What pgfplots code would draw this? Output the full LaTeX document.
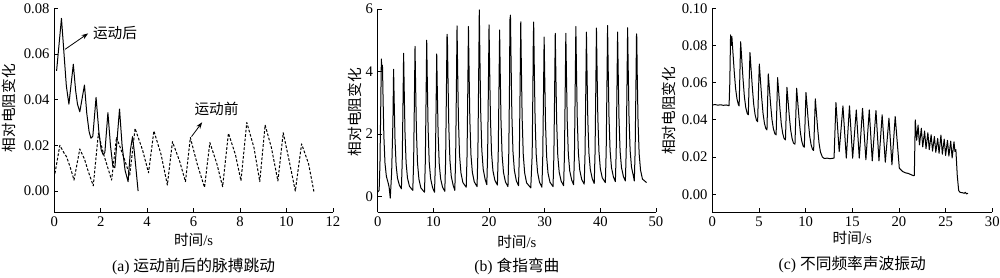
\documentclass[border=0pt]{standalone}
\usepackage{pgfplots}
\pgfplotsset{compat=1.18}
\usetikzlibrary{arrows.meta}
\usepackage{fontspec}
\setmainfont{Liberation Serif}
\newfontfamily\cjk{Noto Sans CJK SC}

\pgfplotsset{
  myaxis/.style={
    scale only axis,
    clip=false,
    axis lines*=left,
    tick align=inside,
    major tick length=3pt,
    tick style={black, line width=0.6pt},
    axis line style={black, line width=0.7pt},
    ticklabel style={font=\fontsize{11}{13}\selectfont},
    /pgf/number format/assume math mode=true,
  },
  trace/.style={black, no markers, line width=0.75pt, line join=round},
}

\begin{document}
\begin{tikzpicture}
\useasboundingbox (0,0) rectangle (750pt,208.5pt);

% ---------------- (a) ----------------
\begin{axis}[myaxis,
  at={(40.7pt,49.3pt)}, anchor=south west,
  width=209pt, height=153pt,
  xmin=0, xmax=12, ymin=-0.0093, ymax=0.08,
  xtick={0,2,4,6,8,10,12},
  ytick={0,0.02,0.04,0.06,0.08},
  yticklabel style={/pgf/number format/fixed, /pgf/number format/fixed zerofill, /pgf/number format/precision=2},
  scaled y ticks=false,
]
\addplot[trace] coordinates {
(0.10,0.0526)(0.31,0.0756)(0.42,0.060)(0.52,0.046)(0.63,0.038)
(0.82,0.0555)(0.92,0.044)(1.00,0.038)(1.10,0.0347)
(1.30,0.0464)(1.40,0.034)(1.50,0.026)(1.58,0.0231)(1.66,0.0240)
(1.80,0.041)(1.92,0.026)(2.02,0.018)(2.11,0.0158)(2.18,0.0170)
(2.31,0.0343)(2.42,0.020)(2.52,0.011)(2.61,0.0102)
(2.81,0.0359)(2.92,0.020)(3.05,0.009)(3.18,0.0041)
(3.28,0.018)(3.37,0.0238)(3.45,0.017)(3.61,0.0000)
};
\addplot[trace, dash pattern=on 2pt off 1.3pt] coordinates {
(0.03,0.0077)(0.24,0.0200)(0.40,0.0170)(0.53,0.0150)(0.70,0.0100)(0.85,0.0048)
(1.10,0.0184)(1.30,0.0140)(1.45,0.0090)(1.68,0.0023)
(1.90,0.0253)(2.10,0.0170)(2.25,0.0120)(2.47,0.0048)
(2.68,0.0235)(2.95,0.0160)(3.25,0.0070)
(3.48,0.0274)(3.80,0.0180)(4.06,0.0080)
(4.29,0.0263)(4.60,0.0160)(4.87,0.0026)
(5.09,0.0216)(5.40,0.0130)(5.65,0.0041)
(5.86,0.0234)(6.15,0.0120)(6.47,0.0016)
(6.70,0.0212)(7.00,0.0120)(7.25,0.0019)
(7.50,0.0253)(7.80,0.0160)(8.04,0.0045)
(8.29,0.0300)(8.60,0.0190)(8.85,0.0041)
(9.08,0.0289)(9.35,0.0190)(9.63,0.0044)
(9.86,0.0255)(10.10,0.0140)(10.38,0.0000)
(10.65,0.0206)(10.95,0.0120)(11.18,-0.0002)
};
\draw[-{Stealth[length=5pt,width=3.5pt]}, line width=0.6pt] (axis cs:0.46,0.062) -- (axis cs:1.46,0.069);
\node[anchor=west, font=\cjk\fontsize{11}{13}\selectfont, inner sep=1pt] at (axis cs:1.6,0.0691) {运动后};
\draw[-{Stealth[length=5pt,width=3.5pt]}, line width=0.6pt] (axis cs:5.91,0.0238) -- (axis cs:6.37,0.0301);
\node[anchor=west, font=\cjk\fontsize{11}{13}\selectfont, inner sep=1pt] at (axis cs:5.97,0.0359) {运动前};
\node[rotate=90, font=\cjk\fontsize{11}{13}\selectfont] at (axis description cs:-0.1625,0.511) {相对电阻变化};
\node[font=\fontsize{11}{13}\selectfont] at (axis description cs:0.5,-0.137) {{\cjk 时间}/s};
\node[font=\fontsize{11.8}{13}\selectfont] at (axis description cs:0.5,-0.268) {(a) {\cjk 运动前后的脉搏跳动}};
\end{axis}

% ---------------- (b) ----------------
\begin{axis}[myaxis,
  at={(283.3pt,49.3pt)}, anchor=south west,
  width=208.7pt, height=152.5pt,
  xmin=0, xmax=50, ymin=-0.5, ymax=6,
  xtick={0,10,20,30,40,50},
  ytick={0,2,4,6},
]
\addplot[trace] coordinates {
(0,0.15)(0.25,0.2)(0.40,1.04)(0.53,2.72)(0.65,4.40)(0.75,4.05)(0.85,4.20)(0.95,3.23)(1.10,1.94)(1.30,1.08)(1.55,0.65)(1.90,0.42)(2.05,0.30)(2.25,-0.05)
(2.50,0.77)(2.73,2.42)(2.85,4.07)(2.95,3.12)(3.10,1.85)(3.30,1.01)(3.55,0.59)(3.90,0.36)(4.25,0.25)
(4.40,1.12)(4.53,2.85)(4.65,4.58)(4.75,3.49)(4.90,2.04)(5.10,1.08)(5.35,0.59)(5.70,0.33)(6.30,0.20)
(6.45,1.12)(6.58,2.96)(6.70,4.80)(6.80,3.64)(6.95,2.10)(7.15,1.07)(7.40,0.56)(7.75,0.28)(8.40,0.14)
(8.55,1.11)(8.68,3.06)(8.80,5.00)(8.90,3.79)(9.05,2.18)(9.25,1.11)(9.50,0.58)(9.85,0.29)(10.20,0.14)
(10.35,1.02)(10.48,2.79)(10.60,4.56)(10.70,3.46)(10.85,2.01)(11.05,1.05)(11.30,0.57)(11.65,0.30)(12.05,0.17)
(12.20,1.17)(12.33,3.18)(12.45,5.19)(12.52,5.05)(12.62,3.84)(12.77,2.24)(12.97,1.17)(13.22,0.64)(13.57,0.35)(13.85,0.20)
(14.00,1.25)(14.13,3.36)(14.25,5.46)(14.35,4.17)(14.50,2.47)(14.70,1.33)(14.95,0.76)(15.30,0.45)(15.90,0.30)
(16.05,1.33)(16.18,3.38)(16.30,5.44)(16.40,4.16)(16.55,2.47)(16.75,1.34)(17.00,0.78)(17.35,0.47)(17.85,0.32)
(18.00,1.45)(18.13,3.71)(18.25,5.97)(18.35,4.57)(18.50,2.73)(18.70,1.50)(18.95,0.88)(19.30,0.55)(19.60,0.38)
(19.75,1.40)(19.88,3.45)(20.00,5.49)(20.10,4.21)(20.25,2.52)(20.45,1.39)(20.70,0.83)(21.05,0.52)(21.50,0.37)
(21.65,1.36)(21.78,3.35)(21.90,5.33)(22.00,4.08)(22.15,2.42)(22.35,1.32)(22.60,0.77)(22.95,0.47)(23.40,0.32)
(23.55,1.42)(23.68,3.61)(23.75,5.65)(23.85,5.80)(23.95,4.44)(24.10,2.64)(24.30,1.44)(24.55,0.84)(24.90,0.51)(25.30,0.35)
(25.45,1.40)(25.58,3.49)(25.70,5.59)(25.80,4.26)(25.95,2.51)(26.15,1.34)(26.40,0.76)(26.75,0.44)(27.50,0.28)
(27.75,1.34)(27.88,3.46)(27.95,4.95)(28.02,5.58)(28.12,4.26)(28.27,2.52)(28.47,1.36)(28.72,0.78)(29.07,0.46)(29.50,0.30)
(29.65,1.26)(29.78,3.18)(29.90,5.10)(30.00,3.91)(30.15,2.33)(30.35,1.28)(30.60,0.75)(30.95,0.46)(31.50,0.32)
(31.65,1.30)(31.78,3.26)(31.90,5.22)(32.00,4.00)(32.15,2.40)(32.35,1.32)(32.60,0.79)(32.95,0.50)(33.40,0.35)
(33.55,1.32)(33.68,3.27)(33.80,5.22)(33.90,4.01)(34.05,2.41)(34.25,1.35)(34.50,0.82)(34.85,0.53)(35.20,0.38)
(35.35,1.39)(35.48,3.42)(35.60,5.44)(35.70,4.18)(35.85,2.52)(36.05,1.41)(36.30,0.85)(36.65,0.55)(37.10,0.40)
(37.25,1.37)(37.38,3.32)(37.50,5.26)(37.60,4.05)(37.75,2.45)(37.95,1.39)(38.20,0.86)(38.55,0.57)(38.90,0.42)
(39.05,1.41)(39.18,3.40)(39.30,5.39)(39.40,4.16)(39.55,2.52)(39.75,1.44)(40.00,0.89)(40.35,0.60)(40.90,0.45)
(41.05,1.45)(41.18,3.46)(41.30,5.47)(41.40,4.22)(41.55,2.58)(41.75,1.48)(42.00,0.93)(42.35,0.63)(42.70,0.48)
(42.85,1.44)(42.98,3.35)(43.10,5.26)(43.20,4.07)(43.35,2.50)(43.55,1.45)(43.80,0.93)(44.15,0.64)(44.50,0.50)
(44.65,1.48)(44.78,3.44)(44.90,5.40)(45.00,4.18)(45.15,2.56)(45.35,1.48)(45.60,0.94)(45.95,0.65)(46.10,0.50)
(46.25,1.44)(46.38,3.32)(46.50,5.20)(46.55,5.10)(46.62,4.01)(46.77,2.43)(46.97,1.38)(47.22,0.85)(47.57,0.56)(48.30,0.45)
};
\node[rotate=90, font=\cjk\fontsize{11}{13}\selectfont] at (axis description cs:-0.0816,0.493) {相对电阻变化};
\node[font=\fontsize{11}{13}\selectfont] at (axis description cs:0.5,-0.144) {{\cjk 时间}/s};
\node[font=\fontsize{11.8}{13}\selectfont] at (axis description cs:0.5,-0.268) {(b) {\cjk 食指弯曲}};
\end{axis}

% ---------------- (c) ----------------
\begin{axis}[myaxis,
  at={(534.2pt,49.3pt)}, anchor=south west,
  width=210pt, height=153pt,
  xmin=0, xmax=30, ymin=-0.0097, ymax=0.10,
  xtick={0,5,10,15,20,25,30},
  ytick={0,0.02,0.04,0.06,0.08,0.10},
  yticklabel style={/pgf/number format/fixed, /pgf/number format/fixed zerofill, /pgf/number format/precision=2},
  scaled y ticks=false,
]
\addplot[trace] coordinates {
(0,0.0480)(0.3,0.0482)(0.6,0.0479)(0.9,0.0481)(1.2,0.0478)(1.5,0.0480)(1.80,0.0476)
(1.88,0.060)(1.96,0.0857)(2.03,0.0800)(2.10,0.0848)(2.20,0.0773)(2.35,0.0662)(2.50,0.0568)(2.65,0.0512)(2.80,0.0482)(2.88,0.0475)
(2.96,0.065)(3.04,0.0820)(3.14,0.0741)(3.29,0.0624)(3.44,0.0525)(3.59,0.0466)(3.74,0.0435)(3.86,0.0427)
(3.95,0.060)(4.04,0.0762)(4.14,0.0688)(4.29,0.0576)(4.44,0.0483)(4.59,0.0427)(4.74,0.0397)(4.86,0.0390)
(4.95,0.055)(5.04,0.0700)(5.14,0.0629)(5.29,0.0523)(5.44,0.0435)(5.59,0.0381)(5.74,0.0353)(5.86,0.0346)
(5.93,0.050)(6.00,0.0647)(6.10,0.0581)(6.25,0.0483)(6.40,0.0401)(6.55,0.0352)(6.70,0.0326)(6.84,0.0319)
(6.92,0.047)(7.00,0.0627)(7.10,0.0560)(7.25,0.0460)(7.40,0.0376)(7.55,0.0326)(7.70,0.0299)(7.84,0.0292)
(7.92,0.043)(8.00,0.0575)(8.10,0.0514)(8.25,0.0422)(8.40,0.0346)(8.55,0.0300)(8.70,0.0275)(8.86,0.0269)
(8.95,0.042)(9.04,0.0570)(9.14,0.0507)(9.29,0.0412)(9.44,0.0332)(9.59,0.0285)(9.74,0.0259)(9.86,0.0253)
(9.95,0.040)(10.04,0.0547)(10.14,0.0485)(10.29,0.0391)(10.44,0.0313)(10.59,0.0266)(10.74,0.0241)(10.86,0.0235)
(10.95,0.037)(11.04,0.0513)(11.14,0.0449)(11.29,0.0354)(11.44,0.0275)(11.59,0.0227)(11.80,0.0200)
(12.00,0.0192)(12.30,0.0194)(12.60,0.0191)(12.90,0.0193)(13.05,0.0195)
(13.25,0.0493)(13.60,0.0229)(14.00,0.0475)(14.36,0.0194)(14.70,0.0475)(15.04,0.0194)
(15.43,0.0453)(15.75,0.0194)(16.10,0.0462)(16.46,0.0185)(16.82,0.0453)(17.14,0.0179)
(17.54,0.0450)(17.86,0.0179)(18.20,0.0427)(18.54,0.0172)(18.93,0.0409)(19.25,0.0158)
(19.60,0.0418)(20.04,0.0140)(20.40,0.0122)(20.70,0.0115)(21.00,0.0112)(21.30,0.0105)(21.55,0.0100)
(21.65,0.0100)(21.75,0.0400)(21.90,0.0290)(22.05,0.0372)(22.20,0.0265)(22.40,0.0355)(22.55,0.0255)
(22.75,0.0340)(22.90,0.0245)(23.10,0.0331)(23.25,0.0240)(23.45,0.0320)(23.60,0.0232)(23.80,0.0310)
(23.95,0.0225)(24.15,0.0300)(24.30,0.0220)(24.50,0.0318)(24.65,0.0215)(24.85,0.0296)(25.00,0.0208)
(25.20,0.0290)(25.35,0.0205)(25.55,0.0285)(25.70,0.0195)(25.90,0.0282)(26.00,0.0230)(26.10,0.0240)
(26.25,0.0100)(26.40,0.0020)(26.55,0.0010)(26.80,0.0008)(27.00,0.0005)(27.10,0.0010)(27.25,0.0002)(27.40,0.0005)
};
\node[rotate=90, font=\cjk\fontsize{11}{13}\selectfont] at (axis description cs:-0.155,0.497) {相对电阻变化};
\node[font=\fontsize{11}{13}\selectfont] at (axis description cs:0.5,-0.126) {{\cjk 时间}/s};
\node[font=\fontsize{11.8}{13}\selectfont] at (axis description cs:0.5,-0.258) {(c) {\cjk 不同频率声波振动}};
\end{axis}
\end{tikzpicture}
\end{document}
